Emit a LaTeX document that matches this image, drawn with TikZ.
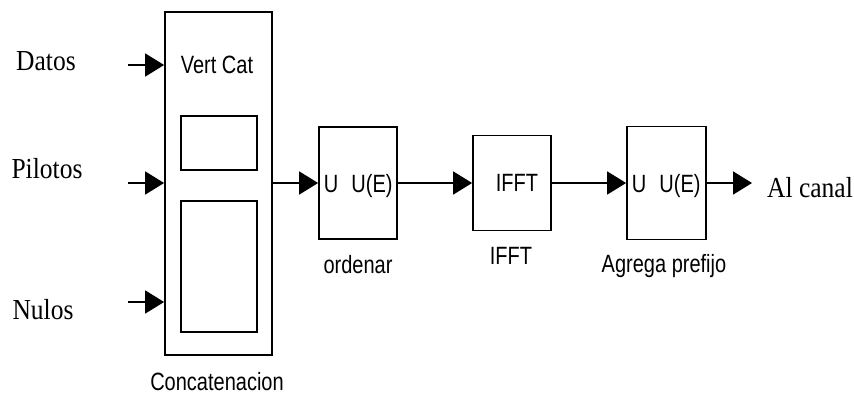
\documentclass[tikz,border=0pt]{standalone}
\usepackage{fontspec}
\newfontfamily\serifA[FakeStretch=0.88]{Liberation Serif}
\newfontfamily\sansA[FakeStretch=0.8]{Liberation Sans}
\usetikzlibrary{arrows.meta}
\tikzset{
  box/.style={draw, line width=1.8pt, inner sep=0pt, fill=white},
  arr/.style={line width=1.8pt, -{Triangle[length=19pt,width=23pt]}},
  serl/.style={inner sep=0pt, anchor=base, font=\serifA\fontsize{29}{30}\selectfont},
  sanl/.style={inner sep=0pt, anchor=base, font=\sansA\fontsize{25}{26}\selectfont},
}
\begin{document}
\begin{tikzpicture}[x=1pt,y=-1pt]
\useasboundingbox (0,0) rectangle (854,394);
% blocks
\node[box, minimum width=107pt, minimum height=343pt] (cat) at (218.5,183.5) {};
\node[box, minimum width=76pt, minimum height=54pt] (s1) at (219,143) {};
\node[box, minimum width=76pt, minimum height=131pt] (s2) at (219,266.5) {};
\node[box, minimum width=78pt, minimum height=112pt] (ord) at (358,183) {};
\node[box, minimum width=78pt, minimum height=95pt] (ifft) at (512,183) {};
\node[box, minimum width=79pt, minimum height=113pt] (agr) at (666.5,183) {};
% texts inside blocks
\node[sanl] (vc) at (217,73) {Vert Cat};
\node[sanl] (ou) at (331,192) {U};
\node[sanl] (oue) at (372,192) {U(E)};
\node[sanl] (it) at (517,191) {IFFT};
\node[sanl] (au) at (639,192) {U};
\node[sanl] (aue) at (680,192) {U(E)};
% labels under blocks
\node[sanl] (lcat) at (217,390) {Concatenacion};
\node[sanl] (lord) at (358,273) {ordenar};
\node[sanl] (lifft) at (511,264) {IFFT};
\node[sanl] (lagr) at (664,272) {Agrega prefijo};
% input / output labels
\node[serl] (datos) at (46,70) {Datos};
\node[serl] (pil) at (47,178) {Pilotos};
\node[serl] (nul) at (43,319) {Nulos};
\node[serl] (canal) at (810,197) {Al canal};
% connectors
\coordinate (d0) at (128,65);
\coordinate (p0) at (128,183);
\coordinate (n0) at (128,302);
\coordinate (out) at (752,183);
\draw[arr] (d0) -- (d0 -| cat.west);
\draw[arr] (p0) -- (p0 -| cat.west);
\draw[arr] (n0) -- (n0 -| cat.west);
\draw[arr] (cat.east |- ord.west) -- (ord.west);
\draw[arr] (ord.east) -- (ifft.west);
\draw[arr] (ifft.east) -- (agr.west);
\draw[arr] (agr.east) -- (out);
\end{tikzpicture}
\end{document}
